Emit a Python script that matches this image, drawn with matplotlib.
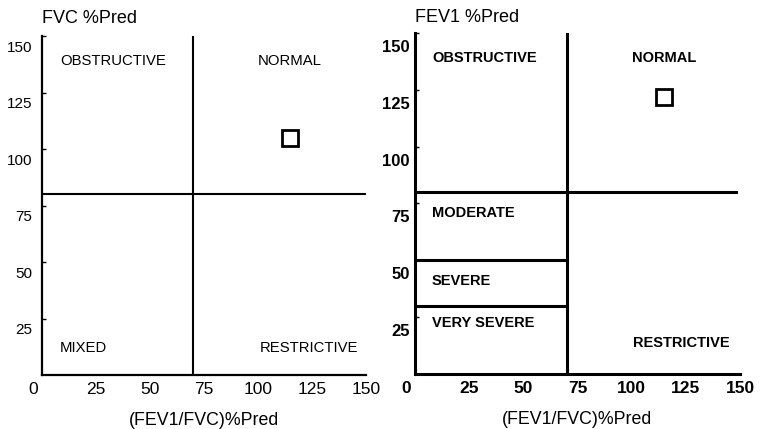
import matplotlib
matplotlib.use("Agg")
import matplotlib.pyplot as plt
from matplotlib.transforms import ScaledTranslation

plt.rcParams['font.family'] = ['Liberation Sans', 'DejaVu Sans']

# patient result (% of predicted)
ratio_pred = 115      # FEV1/FVC %Pred
fvc_pred = 105        # FVC %Pred
fev1_pred = 122       # FEV1 %Pred

# classification cut-offs
ratio_cut = 70
fvc_cut = 80
fev1_cut = 80
severity_cuts = [50, 30]   # moderate/severe, severe/very severe

ticks = [0, 25, 50, 75, 100, 125, 150]
xlabel = "(FEV1/FVC)%Pred"

fig = plt.figure(figsize=(7.63, 4.29), dpi=100)
ax1 = fig.add_axes([0.05505, 0.12587, 0.42464, 0.7902])
ax2 = fig.add_axes([0.5439, 0.1282, 0.42595, 0.7949])


def setup(ax, lw, ylab_pad, weight, ysize, down_in):
    ax.set_xlim(0, 150)
    ax.set_ylim(0, 150)
    for s in ["top", "right"]:
        ax.spines[s].set_visible(False)
    for s in ["left", "bottom"]:
        ax.spines[s].set_linewidth(lw)
    ax.set_xticks(ticks)
    ax.set_yticks(ticks[1:])
    ax.set_xticklabels([str(t) for t in ticks], fontsize=12.5, fontweight=weight)
    ax.set_yticklabels([str(t) for t in ticks[1:]], fontsize=ysize, fontweight=weight)
    ax.tick_params(axis="x", length=0, pad=5)
    ax.tick_params(axis="y", direction="in", length=3, width=1, pad=ylab_pad)
    # y labels sit a little below their ticks
    down = ScaledTranslation(0, -down_in, fig.dpi_scale_trans)
    for lab in ax.get_yticklabels():
        lab.set_transform(lab.get_transform() + down)
    left = ScaledTranslation(-0.09, 0, fig.dpi_scale_trans)
    first = ax.get_xticklabels()[0]
    first.set_transform(first.get_transform() + left)
    ax.set_xlabel(xlabel, fontsize=12.8, labelpad=11)


# FVC panel
setup(ax1, 1.6, 7, "normal", 11, 0.10)
ax1.plot([0, 150], [fvc_cut, fvc_cut], color="black", lw=1.5)
ax1.plot([ratio_cut, ratio_cut], [0, 150], color="black", lw=1.5)
ax1.plot([ratio_pred], [fvc_pred], marker="s", ms=11, mfc="white", mec="black", mew=2)
ax1.text(0, 1.053, "FVC %Pred", transform=ax1.transAxes, fontsize=13, ha="left", va="center")
kw = dict(fontsize=10.7, va="center", ha="left")
ax1.text(8.3, 139, "OBSTRUCTIVE", **kw)
ax1.text(100, 139, "NORMAL", **kw)
ax1.text(8.3, 12, "MIXED", **kw)
ax1.text(101, 12, "RESTRICTIVE", **kw)

# FEV1 panel
setup(ax2, 2.2, 4, "bold", 12, 0.13)
ax2.plot([0, 148], [fev1_cut, fev1_cut], color="black", lw=2.2)
ax2.plot([ratio_cut, ratio_cut], [0, 150], color="black", lw=2.2)
for c in severity_cuts:
    ax2.plot([0, ratio_cut], [c, c], color="black", lw=2.2)
ax2.plot([ratio_pred], [fev1_pred], marker="s", ms=11, mfc="white", mec="black", mew=2)
ax2.text(0, 1.044, "FEV1 %Pred", transform=ax2.transAxes, fontsize=13, ha="left", va="center")
kb = dict(kw, fontsize=10.5, fontweight="bold")
ax2.text(7.8, 139, "OBSTRUCTIVE", **kb)
ax2.text(100, 139, "NORMAL", **kb)
ax2.text(7.8, 71, "MODERATE", **kb)
ax2.text(7.8, 41, "SEVERE", **kb)
ax2.text(7.8, 22.5, "VERY SEVERE", **kb)
ax2.text(100.6, 13.7, "RESTRICTIVE", **kb)

fig.savefig("out.png", dpi=100)
